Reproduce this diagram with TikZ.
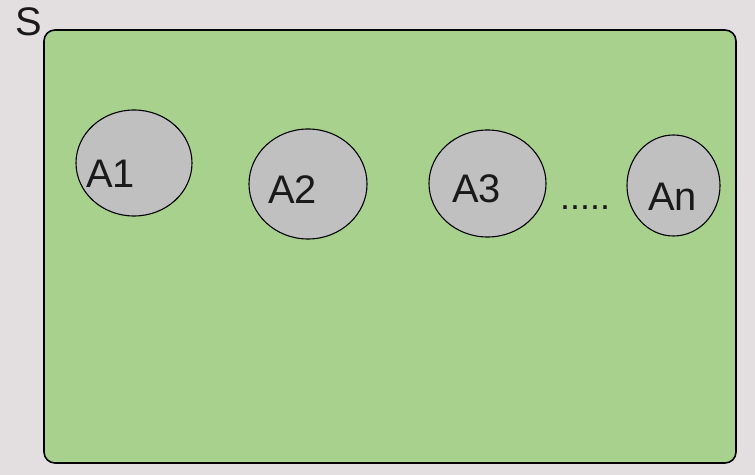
\documentclass[tikz,border=0pt]{standalone}
\usepackage{fontspec}
\setmainfont{Liberation Sans}
\usetikzlibrary{shapes.geometric}
\definecolor{bgc}{HTML}{E3DEDF}
\definecolor{setgreen}{HTML}{A8D18E}
\definecolor{elgray}{HTML}{C0C0C0}
\tikzset{
  setbox/.style={draw=black, line width=1.6bp, fill=setgreen, rounded corners=11bp},
  elem/.style={ellipse, draw=black, line width=1.1bp, fill=elgray, inner sep=0pt},
  lbl/.style={anchor=base west, inner sep=0pt, font=\fontsize{40}{48}\selectfont, text=black!90}
}
\begin{document}
\begin{tikzpicture}[x=1bp, y=-1bp]
\useasboundingbox (0,0) rectangle (755,475);
\fill[bgc] (0,0) rectangle (755,475);
\draw[setbox] (44,30) rectangle (736,463);
\node[lbl] (S) at (15,36) {S};
\node[elem, minimum width=116bp, minimum height=106bp] (e1) at (134,163) {};
\node[elem, minimum width=118bp, minimum height=110bp] (e2) at (308,184) {};
\node[elem, minimum width=117bp, minimum height=107bp] (e3) at (487.5,183.5) {};
\node[elem, minimum width=93bp, minimum height=101bp] (en) at (673.5,185.5) {};
\node[lbl] (t1) at (86,188) {A1};
\node[lbl] (t2) at (268,204) {A2};
\node[lbl] (t3) at (452,203) {A3};
\node[lbl] (tn) at (648,211) {An};
\node[lbl, font=\fontsize{36}{40}\selectfont] (dots) at (560,210) {.....};
\end{tikzpicture}
\end{document}
